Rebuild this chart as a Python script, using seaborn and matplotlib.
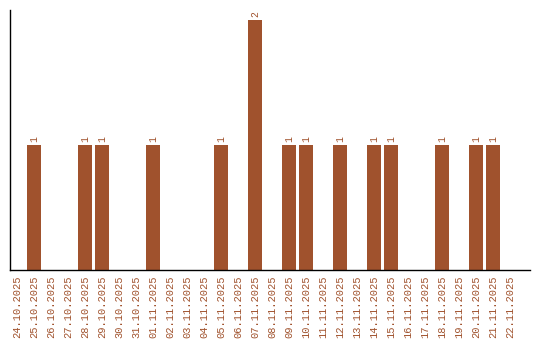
import matplotlib
matplotlib.use("Agg")
import matplotlib.pyplot as plt
import seaborn as sns
import pandas as pd

dates = ["24.10.2025", "25.10.2025", "26.10.2025", "27.10.2025", "28.10.2025",
         "29.10.2025", "30.10.2025", "31.10.2025", "01.11.2025", "02.11.2025",
         "03.11.2025", "04.11.2025", "05.11.2025", "06.11.2025", "07.11.2025",
         "08.11.2025", "09.11.2025", "10.11.2025", "11.11.2025", "12.11.2025",
         "13.11.2025", "14.11.2025", "15.11.2025", "16.11.2025", "17.11.2025",
         "18.11.2025", "19.11.2025", "20.11.2025", "21.11.2025", "22.11.2025"]
counts = [0, 1, 0, 0, 1, 1, 0, 0, 1, 0, 0, 0, 1, 0, 2,
          0, 1, 1, 0, 1, 0, 1, 1, 0, 0, 1, 0, 1, 1, 0]

COLOR = "#A0522D"
sns.set_style("white")
plt.rcParams['font.family'] = ['Liberation Mono', 'DejaVu Sans Mono']

df = pd.DataFrame({"date": dates, "count": counts})

fig = plt.figure(figsize=(5.4, 3.4), dpi=100)
ax = fig.add_axes([10/540, 70/340, 520/540, 260/340])
sns.barplot(data=df, x="date", y="count", order=dates, color=COLOR,
            saturation=1, width=0.82, linewidth=0, ax=ax)

labels = [str(c) if c > 0 else "" for c in counts]
ax.bar_label(ax.containers[0], labels=labels, rotation=90, padding=2,
             color=COLOR, fontsize=7)

ax.set_xlim(-0.41, 30.18)
ax.set_ylim(0, 2.08)
ax.set_xlabel("")
ax.set_ylabel("")
ax.set_yticks([])
ax.tick_params(axis="x", length=0, pad=4, labelrotation=90, labelcolor=COLOR, labelsize=7.5)
for s in ["top", "right"]:
    ax.spines[s].set_visible(False)
for s in ["left", "bottom"]:
    ax.spines[s].set_color("black")
    ax.spines[s].set_linewidth(1)

fig.savefig("out.png", dpi=100)
